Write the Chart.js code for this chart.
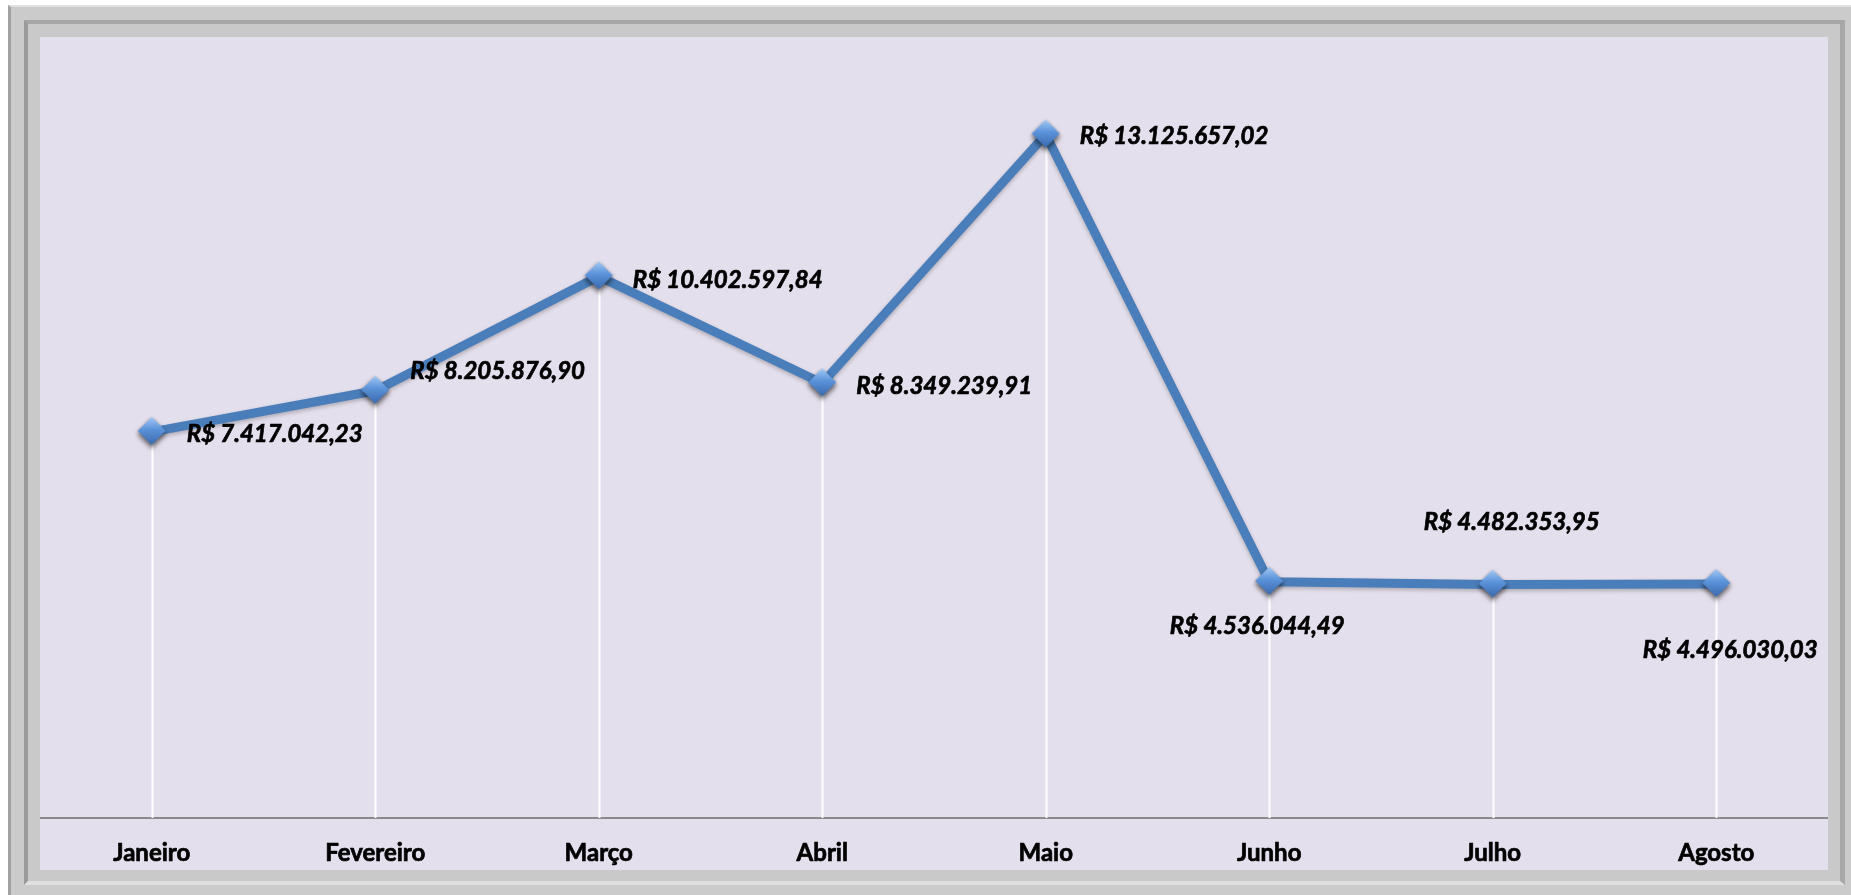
<!DOCTYPE html>
<html>
<head>
<meta charset="utf-8">
<script src="https://cdn.jsdelivr.net/npm/chart.js@4/dist/chart.umd.min.js"></script>
<style>
  html, body { margin:0; padding:0; background:#ffffff; width:1851px; height:895px; overflow:hidden; position:relative; }
  #frame { position:absolute; left:8px; top:5px; width:1843px; height:890px; box-sizing:border-box;
           background:#cbcbcb; border-top:2px solid #e2e2e2; border-left:3px solid #a2a2a2; }
  #bevel { position:absolute; left:13px; top:13px; width:1821px; height:865px; box-sizing:border-box;
           background:#c9c9c9; border-left:4px solid #9a9a9a; border-top:4px solid #a6a6a6;
           border-right:5px solid #a8a8a8; border-bottom:4px solid #e0e0e0; }
  #chart { position:absolute; left:40px; top:37px; width:1788px; height:833px; background:#e4dfec; }
</style>
</head>
<body>
<div id="frame"><div id="bevel"></div></div>
<canvas id="chart" width="1788" height="833"></canvas>
<script>
// ---- data ----
const categories = ["Janeiro", "Fevereiro", "Março", "Abril", "Maio", "Junho", "Julho", "Agosto"];
const values = [7417042.23, 8205876.90, 10402597.84, 8349239.91, 13125657.02, 4536044.49, 4482353.95, 4496030.03];
const yMin = 0;
const yMax = 15000000;

// label placement relative to each point (styling only)
const labelOffsets = [
  {dx: 35, dy: 2, align: "left"},
  {dx: 35, dy: -19, align: "left"},
  {dx: 34, dy: 4, align: "left"},
  {dx: 34, dy: 3, align: "left"},
  {dx: 34, dy: 2, align: "left"},
  {dx: -12, dy: 44, align: "center"},
  {dx: 19, dy: -62, align: "center"},
  {dx: 14, dy: 66, align: "center"}
];

function formatBRL(v) {
  const fixed = v.toFixed(2);
  const [intPart, dec] = fixed.split(".");
  const withDots = intPart.replace(/\B(?=(\d{3})+(?!\d))/g, ".");
  return "R$ " + withDots + "," + dec;
}

// diamond marker image
function makeMarker() {
  const c = document.createElement("canvas");
  c.width = 44; c.height = 46;
  const g = c.getContext("2d");
  const cx = 22, cy = 22, r = 14;
  g.save();
  g.shadowColor = "rgba(0,0,0,0.45)";
  g.shadowBlur = 5;
  g.shadowOffsetY = 3;
  g.beginPath();
  g.moveTo(cx, cy - r); g.lineTo(cx + r, cy); g.lineTo(cx, cy + r); g.lineTo(cx - r, cy); g.closePath();
  const grad = g.createLinearGradient(0, cy - r, 0, cy + r);
  grad.addColorStop(0, "#a3c9f4");
  grad.addColorStop(0.45, "#5b93da");
  grad.addColorStop(1, "#3a69ad");
  g.fillStyle = grad;
  g.fill();
  g.restore();
  return c;
}
const marker = makeMarker();

const dropLines = {
  id: "dropLines",
  beforeDatasetsDraw(chart) {
    const ctx = chart.ctx;
    const meta = chart.getDatasetMeta(0);
    const bottom = chart.scales.y.bottom;
    ctx.save();
    ctx.strokeStyle = "#ffffff";
    ctx.lineWidth = 2;
    meta.data.forEach(p => {
      ctx.beginPath();
      ctx.moveTo(Math.round(p.x) + 0.5, p.y);
      ctx.lineTo(Math.round(p.x) + 0.5, bottom);
      ctx.stroke();
    });
    ctx.restore();
  }
};

const lineShadow = {
  id: "lineShadow",
  beforeDatasetDraw(chart) {
    const ctx = chart.ctx;
    ctx.save();
    ctx.shadowColor = "rgba(0,0,0,0.25)";
    ctx.shadowBlur = 4;
    ctx.shadowOffsetY = 2;
  },
  afterDatasetDraw(chart) {
    chart.ctx.restore();
  }
};

const dataLabels = {
  id: "dataLabels",
  afterDatasetsDraw(chart) {
    const ctx = chart.ctx;
    const meta = chart.getDatasetMeta(0);
    ctx.save();
    ctx.font = "italic bold 24px Lato, 'Liberation Sans', sans-serif";
    ctx.fillStyle = "#000000";
    ctx.strokeStyle = "#000000";
    ctx.lineWidth = 0.7;
    ctx.textBaseline = "middle";
    meta.data.forEach((p, i) => {
      const o = labelOffsets[i];
      ctx.textAlign = o.align;
      const t = formatBRL(values[i]);
      ctx.fillText(t, p.x + o.dx, p.y + o.dy);
      ctx.strokeText(t, p.x + o.dx, p.y + o.dy);
    });
    ctx.restore();
  }
};

new Chart(document.getElementById("chart"), {
  type: "line",
  data: {
    labels: categories,
    datasets: [{
      data: values,
      borderColor: "#4a7ebb",
      borderWidth: 9,
      tension: 0,
      fill: false,
      clip: false,
      pointStyle: marker,
      pointRadius: 14,
      pointHoverRadius: 14,
      borderJoinStyle: "round",
      borderCapStyle: "round"
    }]
  },
  options: {
    responsive: false,
    animation: false,
    devicePixelRatio: 1,
    layout: { padding: 0, autoPadding: false },
    plugins: { legend: { display: false }, tooltip: { enabled: false }, title: { display: false } },
    scales: {
      x: {
        type: "category",
        offset: true,
        grid: { display: false, drawTicks: false },
        border: { display: true, color: "#8a8a8a", width: 2 },
        ticks: {
          color: "#000000",
          textStrokeColor: "#000000",
          textStrokeWidth: 0.7,
          padding: 21,
          maxRotation: 0,
          font: { family: "Lato, 'Liberation Sans', sans-serif", size: 24, weight: "bold" }
        },
        afterFit(scale) { scale.height = 52; scale.paddingLeft = 0; scale.paddingRight = 0; }
      },
      y: {
        display: false,
        min: yMin,
        max: yMax
      }
    }
  },
  plugins: [dropLines, lineShadow, dataLabels]
});
</script>
</body>
</html>
